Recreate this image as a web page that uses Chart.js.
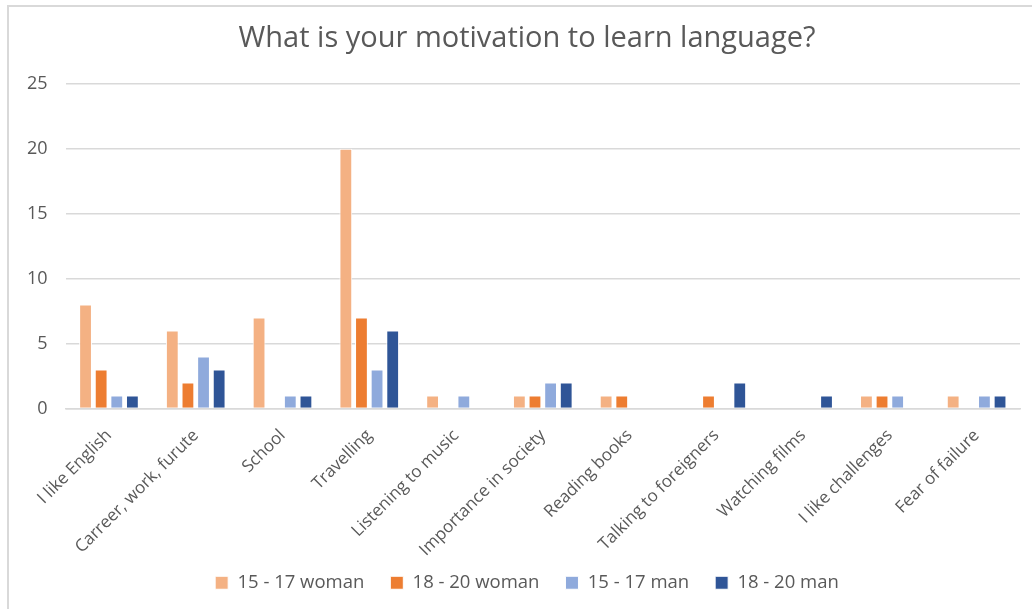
<!DOCTYPE html>
<html>
<head>
<meta charset="utf-8">
<script src="https://cdn.jsdelivr.net/npm/chart.js@4.4.0/dist/chart.umd.min.js"></script>
<style>
  html, body { margin: 0; padding: 0; background: #fff; overflow: hidden; }
  #frame {
    position: absolute; left: 7px; top: 5px; width: 1060px; height: 640px;
    border-left: 2px solid #d9d9d9; border-top: 2px solid #d9d9d9; box-sizing: border-box;
  }
  #wrap { position: absolute; left: 0; top: 0; width: 1040px; height: 598px; }
</style>
</head>
<body>
<div id="frame"><div id="wrap"><canvas id="motivChart"></canvas></div></div>
<script>
// Motivation survey
const categories = ['I like English', 'Carreer, work, furute', 'School', 'Travelling', 'Listening to music',
    'Importance in society', 'Reading books', 'Talking to foreigners', 'Watching films', 'I like challenges', 'Fear of failure'];
const woman1517 = [8, 6, 7, 20, 1, 1, 1, 0, 0, 1, 1];
const woman1820 = [3, 2, 0, 7, 0, 1, 1, 1, 0, 1, 0];
const man1517 = [1, 4, 1, 3, 1, 2, 0, 0, 0, 1, 1];
const man1820 = [1, 3, 1, 6, 0, 2, 0, 2, 1, 0, 1];
const yTicks = [0, 5, 10, 15, 20, 25];

const fontFam = "'Open Sans', 'Liberation Sans', sans-serif";
const textCol = '#595959';

function series(label, data, color) {
    return {
        label: label,
        data: data,
        backgroundColor: color,
        borderColor: '#ffffff',
        borderWidth: 1,
        barPercentage: 0.82,
        categoryPercentage: 0.72
    };
}

// rotated labels hang below the x axis box, so don't let the axis clip them
const unclipLabels = {
    id: 'unclipLabels',
    afterLayout(chart) {
        chart.scales.x.bottom += 30;
    }
};

new Chart(document.getElementById('motivChart').getContext('2d'), {
    type: 'bar',
    data: {
        labels: categories,
        datasets: [
            series('15 - 17 woman', woman1517, '#f4b183'),
            series('18 - 20 woman', woman1820, '#ed7d31'),
            series('15 - 17 man', man1517, '#8faadc'),
            series('18 - 20 man', man1820, '#2f5597')
        ]
    },
    plugins: [unclipLabels],
    options: {
        responsive: true,
        maintainAspectRatio: false,
        animation: false,
        layout: { padding: { left: 0, right: 4, top: 10, bottom: 3 } },
        plugins: {
            title: {
                display: true,
                text: 'What is your motivation to learn language?',
                color: textCol,
                font: { family: fontFam, size: 29, weight: 'normal' },
                padding: { top: 4, bottom: 28 }
            },
            legend: {
                position: 'bottom',
                labels: {
                    color: textCol,
                    font: { family: fontFam, size: 18.5 },
                    boxWidth: 13,
                    boxHeight: 13,
                    padding: 26
                }
            },
            tooltip: { enabled: false }
        },
        scales: {
            y: {
                min: 0,
                max: 25,
                afterBuildTicks: (axis) => { axis.ticks = yTicks.map(v => ({ value: v })); },
                border: { display: false },
                grid: { color: '#d9d9d9', lineWidth: 1.5, drawTicks: false },
                ticks: {
                    color: textCol,
                    padding: 18,
                    font: { family: fontFam, size: 18 }
                }
            },
            // empty spacer on the right so the plot stops short of the frame
            yRight: {
                position: 'right',
                display: true,
                border: { display: false },
                grid: { display: false },
                ticks: { display: false },
                afterFit: (axis) => { axis.width = 25; }
            },
            x: {
                border: { color: '#d9d9d9', width: 1.5 },
                grid: { display: false },
                afterFit: (axis) => { axis.height = 139; },
                ticks: {
                    color: textCol,
                    minRotation: 45,
                    maxRotation: 45,
                    padding: 9,
                    font: { family: fontFam, size: 17 }
                }
            }
        }
    }
});
</script>
</body>
</html>
